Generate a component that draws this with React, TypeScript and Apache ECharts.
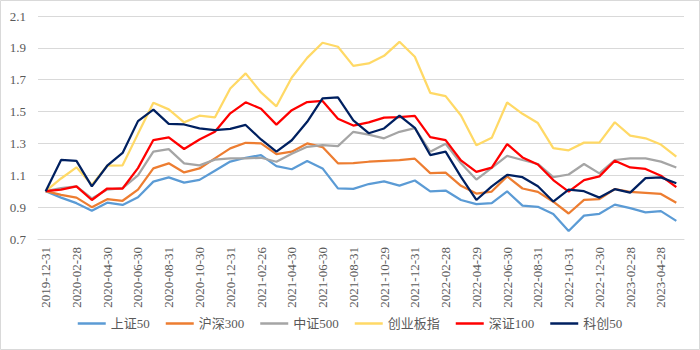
import React, { useEffect, useRef } from "react";
import * as echarts from "echarts";

const dates = [
  "2019-12-31", "2020-01-23", "2020-02-28", "2020-03-31", "2020-04-30", "2020-05-29",
  "2020-06-30", "2020-07-31", "2020-08-31", "2020-09-30", "2020-10-30", "2020-11-30",
  "2020-12-31", "2021-01-29", "2021-02-26", "2021-03-31", "2021-04-30", "2021-05-31",
  "2021-06-30", "2021-07-30", "2021-08-31", "2021-09-30", "2021-10-29", "2021-11-30",
  "2021-12-31", "2022-01-28", "2022-02-28", "2022-03-31", "2022-04-29", "2022-05-31",
  "2022-06-30", "2022-07-29", "2022-08-31", "2022-09-30", "2022-10-31", "2022-11-30",
  "2022-12-30", "2023-01-31", "2023-02-28", "2023-03-31", "2023-04-28", "2023-05-31",
];

const sz50 = [
  1.0, 0.96, 0.925, 0.878, 0.928, 0.914, 0.962, 1.06, 1.087, 1.054, 1.071, 1.129,
  1.186, 1.21, 1.227, 1.158, 1.138, 1.19, 1.143, 1.018, 1.015, 1.045, 1.062, 1.035,
  1.067, 0.999, 1.004, 0.945, 0.919, 0.925, 0.999, 0.91, 0.902, 0.857, 0.75, 0.847,
  0.858, 0.916, 0.894, 0.867, 0.875, 0.814,
];

const hs300 = [
  1.0, 0.977, 0.96, 0.9, 0.95, 0.94, 1.01, 1.143, 1.175, 1.118, 1.143, 1.206,
  1.269, 1.304, 1.3, 1.233, 1.248, 1.3, 1.277, 1.175, 1.176, 1.185, 1.19, 1.195,
  1.204, 1.114, 1.117, 1.034, 0.985, 0.998, 1.093, 1.017, 0.996, 0.934, 0.86, 0.946,
  0.951, 1.014, 0.996, 0.99, 0.983, 0.927,
];

const zz500 = [
  1.0, 1.02, 1.03, 0.955, 1.01, 1.02, 1.1, 1.249, 1.264, 1.175, 1.162, 1.198,
  1.206, 1.206, 1.21, 1.185, 1.235, 1.279, 1.29, 1.283, 1.373, 1.355, 1.332, 1.373,
  1.396, 1.248, 1.298, 1.175, 1.073, 1.146, 1.222, 1.196, 1.171, 1.089, 1.105, 1.171,
  1.112, 1.196, 1.206, 1.206, 1.186, 1.149,
];

const cyb = [
  1.0, 1.08, 1.15, 1.04, 1.16, 1.163, 1.36, 1.555, 1.514, 1.432, 1.474, 1.463,
  1.645, 1.74, 1.62, 1.533, 1.714, 1.837, 1.932, 1.907, 1.787, 1.802, 1.85, 1.938,
  1.844, 1.618, 1.597, 1.475, 1.288, 1.335, 1.557, 1.486, 1.428, 1.271, 1.257, 1.305,
  1.305, 1.433, 1.349, 1.332, 1.293, 1.217,
];

const sz100 = [
  1.0, 1.01, 1.03, 0.945, 1.017, 1.017, 1.145, 1.321, 1.338, 1.265, 1.325, 1.373,
  1.489, 1.558, 1.518, 1.418, 1.509, 1.56, 1.567, 1.455, 1.412, 1.432, 1.462, 1.465,
  1.473, 1.34, 1.321, 1.193, 1.121, 1.148, 1.296, 1.212, 1.168, 1.07, 0.998, 1.07,
  1.093, 1.191, 1.149, 1.14, 1.097, 1.026,
];

const kc50 = [
  1.0, 1.196, 1.19, 1.03, 1.16, 1.24, 1.44, 1.512, 1.423, 1.419, 1.394, 1.384,
  1.391, 1.416, 1.325, 1.248, 1.32, 1.436, 1.583, 1.589, 1.445, 1.364, 1.394, 1.474,
  1.398, 1.227, 1.248, 1.09, 0.945, 1.03, 1.103, 1.088, 1.031, 0.935, 1.01, 1.0,
  0.96, 1.013, 0.991, 1.082, 1.087, 1.05,
];

const seriesNames = ["上证50", "沪深300", "中证500", "创业板指", "深证100", "科创50"];
const seriesData = [sz50, hs300, zz500, cyb, sz100, kc50];
const colors = ["#5B9BD5", "#ED7D31", "#A5A5A5", "#FFD966", "#FF0000", "#002060"];

const FONT = "Liberation Serif, DejaVu Serif, Noto Sans CJK SC, serif";

export default function App() {
  const ref = useRef<HTMLDivElement>(null);
  useEffect(() => {
    if (!ref.current) return;
    const chart = echarts.init(ref.current, null, { renderer: "svg" });
    chart.setOption({
      animation: false,
      backgroundColor: "#FFFFFF",
      color: colors,
      textStyle: { fontFamily: FONT },
      graphic: [
        {
          type: "rect",
          shape: { x: 0.5, y: 0.5, width: 699, height: 349 },
          style: { fill: "none", stroke: "#D9D9D9", lineWidth: 1 },
          silent: true,
        },
      ],
      grid: { left: 38, right: 16, top: 16, bottom: 111, containLabel: false },
      legend: {
        bottom: 15,
        left: "center",
        icon: "rect",
        itemWidth: 28,
        itemHeight: 2.5,
        itemGap: 16,
        textStyle: { fontFamily: FONT, fontSize: 13, color: "#595959" },
        data: seriesNames,
      },
      xAxis: {
        type: "category",
        data: dates,
        boundaryGap: true,
        axisLine: { show: true, lineStyle: { color: "#D9D9D9", width: 1 } },
        axisTick: { show: false },
        axisLabel: {
          interval: 1,
          rotate: 90,
          margin: 8,
          fontFamily: FONT,
          fontSize: 13,
          color: "#595959",
        },
        splitLine: { show: false },
      },
      yAxis: {
        type: "value",
        min: 0.7,
        max: 2.1,
        interval: 0.2,
        axisLine: { show: false },
        axisTick: { show: false },
        axisLabel: {
          margin: 12,
          fontFamily: FONT,
          fontSize: 13,
          color: "#595959",
          formatter: (v: number) => v.toFixed(1),
        },
        splitLine: { show: true, lineStyle: { color: "#D9D9D9", width: 1 } },
      },
      series: seriesNames.map((name, i) => ({
        name,
        type: "line",
        data: seriesData[i],
        symbol: "none",
        showSymbol: false,
        lineStyle: { width: 2.25, color: colors[i] },
        itemStyle: { color: colors[i] },
      })),
    });
    return () => chart.dispose();
  }, []);
  return (
    <div
      ref={ref}
      style={{ position: "absolute", left: 0, top: 0, width: 700, height: 350 }}
    />
  );
}
